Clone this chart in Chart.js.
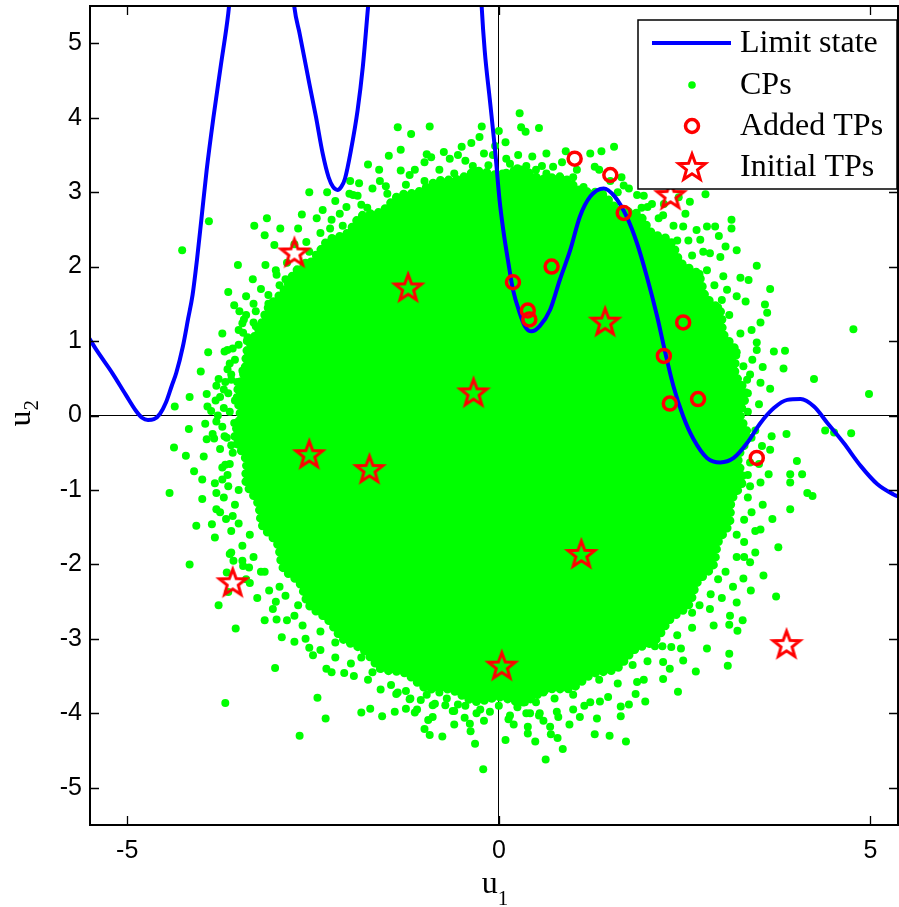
<!DOCTYPE html>
<html><head><meta charset="utf-8">
<script src="https://cdn.jsdelivr.net/npm/chart.js@4.4.0/dist/chart.umd.min.js"></script>
<style>html,body{margin:0;padding:0;background:#fff;}canvas{display:block;}</style>
</head><body>
<canvas id="c" width="899" height="907"></canvas>
<script>
// ---------- data ----------
const xTicks = [-5, 0, 5];
const yTicks = [-5, -4, -3, -2, -1, 0, 1, 2, 3, 4, 5];
const seriesLabels = ['Limit state', 'CPs', 'Added TPs', 'Initial TPs'];

const limitSeg1 = [[-5.55,1.10],[-5.40,0.86],[-5.20,0.57],[-5.02,0.28],[-4.88,0.06],[-4.80,-0.03],[-4.72,-0.06],[-4.64,-0.05],[-4.56,0.02],[-4.48,0.17],[-4.40,0.40],[-4.34,0.57],[-4.25,0.93],[-4.18,1.30],[-4.12,1.62],[-4.06,2.10],[-4.00,2.65],[-3.93,3.30],[-3.84,4.00],[-3.74,4.70],[-3.64,5.40],[-3.61,5.70]];
const limitSeg2 = [[-2.77,5.70],[-2.75,5.48],[-2.68,5.13],[-2.55,4.46],[-2.46,4.01],[-2.37,3.52],[-2.29,3.20],[-2.23,3.07],[-2.17,3.03],[-2.12,3.07],[-2.07,3.18],[-1.99,3.56],[-1.90,4.10],[-1.83,4.68],[-1.76,5.48],[-1.74,5.70]];
const limitSeg3 = [[-0.24,5.70],[-0.23,5.48],[-0.19,4.90],[-0.12,4.23],[-0.05,3.56],[0.01,2.89],[0.06,2.49],[0.13,2.04],[0.19,1.69],[0.28,1.38],[0.35,1.20],[0.44,1.13],[0.55,1.20],[0.69,1.42],[0.82,1.82],[0.96,2.22],[1.09,2.67],[1.23,2.94],[1.41,3.05],[1.56,2.94],[1.72,2.67],[1.86,2.31],[1.99,1.87],[2.13,1.33],[2.24,0.84],[2.35,0.39],[2.48,-0.01],[2.62,-0.32],[2.80,-0.57],[2.98,-0.63],[3.16,-0.57],[3.34,-0.37],[3.52,-0.10],[3.70,0.10],[3.88,0.21],[4.06,0.22],[4.24,0.12],[4.42,-0.10],[4.64,-0.37],[4.87,-0.68],[5.09,-0.92],[5.31,-1.06],[5.40,-1.10]];

// dense core of the CP cloud (outline of the solid green area)
const cpCore = [[0,3.22],[0.30,3.30],[0.56,3.18],[0.85,3.20],[1.10,3.02],[1.38,2.98],[1.60,2.77],[1.88,2.70],[2.06,2.45],[2.30,2.35],[2.45,2.05],[2.68,1.90],[2.78,1.60],[2.98,1.40],[3.02,1.10],[3.18,0.88],[3.18,0.56],[3.32,0.30],[3.25,0.00],[3.35,-0.28],[3.22,-0.57],[3.28,-0.88],[3.13,-1.14],[3.10,-1.45],[2.95,-1.70],[2.88,-2.02],[2.67,-2.24],[2.55,-2.55],[2.30,-2.74],[2.10,-3.02],[1.82,-3.15],[1.58,-3.40],[1.26,-3.47],[0.98,-3.66],[0.65,-3.68],[0.32,-3.85],[0,-3.78],[-0.32,-3.84],[-0.65,-3.68],[-0.98,-3.66],[-1.26,-3.46],[-1.58,-3.40],[-1.82,-3.15],[-2.10,-3.00],[-2.30,-2.74],[-2.55,-2.55],[-2.68,-2.25],[-2.90,-2.05],[-2.98,-1.72],[-3.18,-1.48],[-3.24,-1.18],[-3.40,-0.90],[-3.40,-0.60],[-3.55,-0.30],[-3.48,0.00],[-3.52,0.30],[-3.42,0.60],[-3.38,0.90],[-3.22,1.17],[-3.10,1.45],[-2.90,1.67],[-2.72,1.95],[-2.49,2.09],[-2.30,2.35],[-2.05,2.44],[-1.85,2.68],[-1.58,2.74],[-1.35,2.95],[-1.09,3.00],[-0.82,3.15],[-0.56,3.17],[-0.28,3.28],[0,3.22]];

// scattered CPs around the core
const cpPoints = [
[-3.90,2.61],[-4.26,2.22],[-3.29,2.55],[-3.12,2.65],[-2.94,2.51],[-3.51,2.02],[-3.14,2.02],[-3.31,1.83],[-2.99,1.89],[-3.64,1.66],[-3.10,1.62],[-2.55,3.00],[-2.31,3.00],[-2.37,2.76],[-1.76,3.37],[-1.61,3.30],[-1.52,3.08],[-1.88,3.12],[-1.32,3.29],[-1.20,3.23],[-2.01,2.98],[-2.87,1.83],[-3.56,1.48],[-3.49,1.40],[-3.27,1.40],[-3.45,1.24],[-3.72,1.10],[-3.91,0.85],[-3.65,0.88],[-3.39,1.00],[-3.27,1.20],[-3.02,2.29],[-2.70,2.51],[-2.59,2.33],[-2.46,2.16],[-2.25,2.63],[-2.27,2.51],[-2.14,2.71],[-1.96,2.96],[-1.85,2.83],[-1.77,2.79],[-3.15,2.42],
[-1.36,3.87],[-0.93,3.88],[-1.18,3.78],[0.28,4.06],[0.30,3.87],[0.36,3.81],[0.54,3.86],[0.00,3.82],[-0.23,3.88],[-0.26,3.74],[0.09,3.67],[-0.37,3.66],[-0.50,3.61],[-0.74,3.54],[-0.97,3.51],[-1.32,3.57],[-1.48,3.49],[0.64,3.52],[0.26,3.50],[0.15,3.38],[0.37,3.35],[0.58,3.35],[0.73,3.34],[0.64,3.25],[1.23,3.52],[1.29,3.34],[0.87,3.16],[1.00,3.03],[1.14,3.07],[-1.13,3.30],[-0.91,3.47],[-0.66,3.45],[-0.14,3.36],[-0.08,3.50],
[1.55,3.61],[1.38,3.55],[1.65,3.20],[1.68,3.09],[1.86,2.96],[2.06,2.84],[1.92,2.79],[2.22,2.84],[2.42,2.93],[2.78,2.97],[2.57,2.87],[2.51,2.71],[2.21,2.69],[2.48,2.54],[2.66,2.49],[2.80,2.54],[2.91,2.54],[3.13,2.63],[3.13,2.51],[2.96,2.41],[3.05,2.27],[3.20,2.22],[2.84,2.18],[2.98,2.13],[2.71,2.36],
[3.47,2.01],[3.36,1.82],[3.65,1.70],[3.58,1.49],[3.61,1.38],[3.52,1.25],[3.32,1.53],[3.20,1.60],[3.07,1.69],[3.02,1.87],[4.77,1.16],[3.70,0.86],[3.85,0.87],[3.83,0.63],[3.47,0.98],[3.47,0.88],[4.24,0.49],[4.98,0.29],[3.65,0.36],[3.34,0.48],[3.52,0.44],[3.29,0.66],[3.41,0.75],[4.39,-0.20],[4.51,-0.23],[4.74,-0.24],[3.87,-0.25],[3.67,-0.28],[3.54,-0.41],[3.65,-0.46],[4.01,-0.61],[3.92,-0.79],[4.08,-0.79],[3.63,-0.79],[3.52,-0.90],[3.92,-0.90],[4.15,-1.04],[3.38,-0.63],[3.68,-1.39],[3.92,-1.26],[4.22,-1.08],[3.52,-1.53],[3.76,-1.77],[3.35,-1.10],[3.40,-1.30],[3.30,-1.70],[3.55,-1.20],
[3.73,-2.43],[3.56,-2.15],[3.39,-2.35],[3.29,-2.19],[3.28,-2.75],[3.21,-2.89],[3.10,-2.81],[3.10,-3.20],[3.08,-3.36],[2.80,-3.13],[2.65,-3.44],[2.41,-3.71],[2.21,-3.54],[2.48,-3.29],[2.45,-3.13],[2.32,-3.11],[1.97,-3.84],[1.84,-3.74],[1.75,-3.88],[1.64,-4.04],[1.71,-4.38],[1.49,-4.30],[1.29,-4.28],[0.86,-4.48],[0.63,-4.62],[0.49,-4.38],[0.79,-4.33],[0.70,-4.28],[0.39,-4.27],[0.09,-4.36],[-0.21,-4.75],[0.95,-4.15],[1.09,-4.05],[1.32,-4.07],[1.64,-3.91],[0.78,-3.98],[0.55,-4.00],[0.42,-4.00],[0.15,-4.03],[-0.12,-3.98],[1.23,-3.85],[1.36,-3.84],[1.47,-3.78],[1.86,-3.58],[2.21,-3.31],[2.84,-2.60],[2.89,-2.82],[3.11,-2.69],[3.20,-2.51],[3.38,-1.97],[3.45,-1.84],
[-2.44,-3.79],[-2.33,-4.07],[-2.68,-4.30],[-1.85,-3.99],[-1.73,-3.94],[-1.57,-4.04],[-1.40,-3.98],[-1.25,-3.94],[-1.13,-3.99],[-1.00,-4.21],[-0.93,-4.29],[-0.76,-4.31],[-0.95,-4.09],[-0.89,-4.05],[-0.60,-3.97],[-0.46,-4.06],[-0.38,-4.24],[-0.32,-4.41],[0.13,-4.08],[0.39,-4.18],[0.69,-4.18],[0.37,-4.00],[0.54,-4.03],[-0.30,-4.00],[-0.72,-3.89],[-0.89,-3.89],[-1.20,-3.81],[-1.38,-3.74],
[-4.16,-2.00],[-3.77,-2.55],[-3.54,-2.86],[-3.01,-3.39],[-3.68,-3.86],[-3.15,-2.75],[-2.99,-2.74],[-2.92,-2.98],[-2.75,-3.04],[-2.55,-3.12],[-2.50,-3.22],[-2.32,-3.40],[-2.25,-3.45],[-2.08,-3.46],[-1.99,-3.33],[-1.76,-3.55],[-1.59,-3.68],[-1.36,-3.72],[-1.19,-3.80],[-0.97,-3.75],[-0.86,-3.87],[-0.62,-3.97],[-0.39,-4.14],[-3.09,-2.35],[-3.04,-2.60],[-2.87,-2.42],[-2.75,-2.69],[-2.64,-2.82],[-3.62,-1.86],[-3.66,-2.11],[-3.64,-2.37],[-3.36,-2.04],
[-4.01,0.59],[-4.16,0.25],[-4.36,0.12],[-3.93,0.29],[-3.81,0.20],[-3.87,0.06],[-3.80,-0.08],[-3.95,-0.11],[-4.17,-0.18],[-4.37,-0.43],[-4.21,-0.54],[-3.93,-0.32],[-3.83,-0.31],[-3.97,-0.55],[-4.10,-0.75],[-3.99,-0.86],[-3.82,-0.91],[-4.43,-1.04],[-3.99,-1.12],[-3.80,-1.04],[-3.80,-1.26],[-4.07,-1.48],[-3.86,-1.46],[-3.82,-1.64],[-3.67,-1.39],[-3.60,-1.84],[-3.57,-1.95],[-3.44,-2.02],[-3.69,0.86],[-3.65,0.62],[-3.60,0.48],[-3.43,1.29],[-3.44,1.11],[-3.77,0.49],[-3.92,0.12],[-3.69,-0.28],[-3.68,-0.66],[-3.72,-0.86],
[-0.60,3.25],[-0.30,3.28],[0.05,3.25],[0.40,3.20],[-1.00,3.15],[-1.50,2.98],[-2.10,2.55],[-2.60,2.05],[-2.90,1.60],[-3.20,1.00],[-3.45,0.60],[-3.55,0.20],[-3.60,-0.40],[-3.50,-1.00],[-3.35,-1.60],[-3.15,-2.10],[-2.70,-2.55],[-2.20,-3.05],[-1.60,-3.40],[-1.00,-3.65],[-0.40,-3.78],[0.30,-3.75],[0.90,-3.62],[1.50,-3.40],[2.10,-3.10],[2.60,-2.65],[2.95,-2.20],[3.20,-1.60],[3.38,-0.95],[3.40,-0.30],[3.35,0.30],[3.20,0.85],[2.95,1.45],[2.70,1.90],[2.40,2.35],[2.00,2.80],[1.60,3.00],[1.00,3.20],
[-1.00,3.40],[-0.80,3.30],[-0.45,3.42],[-0.20,3.52],[0.10,3.45],[0.45,3.48],[0.85,3.40],[1.05,3.30],[-1.25,3.10],[-1.60,3.15],[-0.35,3.35],[0.50,3.30],[0.25,3.32],[-0.05,3.62],[-0.55,3.50],[0.90,3.55],
[-1.90,2.95],[-2.05,2.80],[-2.20,2.88],[-2.40,2.45],[-2.55,2.20],[-2.75,2.30],[-2.85,2.05],[-3.00,1.95],[-2.95,1.75],[-3.10,1.50],[-3.20,1.70],[-3.30,1.25],[-3.38,1.05],[-3.50,0.95],[-3.55,0.75],[-2.45,2.65],[-2.00,3.15],[-1.70,3.05],[-2.65,2.70],[-3.40,1.60],
[-3.60,0.55],[-3.70,0.35],[-3.62,0.05],[-3.72,-0.15],[-3.58,-0.50],[-3.75,-0.45],[-3.65,-0.80],[-3.55,-1.20],[-3.70,-1.10],[-3.60,-1.55],[-3.45,-1.75],[-3.70,0.10],[-3.50,0.35],
[-3.58,0.90],[-3.62,0.70],[-3.68,0.45],[-3.75,0.25],[-3.64,0.30],[-3.78,0.00],[-3.66,-0.30],[-3.62,-0.65],[-3.72,-0.70],[-3.64,-0.95],[-3.58,-1.35],[-3.50,-1.45],[-3.45,-1.95],[-3.30,-1.90],[-3.40,-2.20],[-3.52,0.45],[-3.56,-0.10],[-3.80,0.40],[-3.85,-0.25],[-3.75,-1.30],[-3.40,1.35],[-3.30,1.50],[-3.50,1.15],
[-3.35,-2.25],[-3.25,-2.45],[-3.00,-2.50],[-2.85,-2.75],[-2.60,-3.00],[-2.40,-3.15],[-2.20,-3.25],[-1.95,-3.50],[-1.70,-3.45],[-1.45,-3.62],[-1.25,-3.70],[-2.95,-2.30],[-3.20,-2.10],[-2.40,-2.90],[-1.85,-3.25],
[-1.05,-3.82],[-0.80,-3.72],[-0.55,-3.88],[-0.25,-3.95],[0.00,-3.90],[0.25,-3.92],[0.50,-3.85],[0.75,-3.80],[1.00,-3.75],[1.15,-3.90],[0.60,-3.72],[-0.10,-3.80],[0.35,-3.85],[-0.70,-3.80],
[-0.20,-4.10],[0.20,-4.15],[0.60,-4.10],[-0.60,-4.15],[1.00,-3.95],[-1.10,-3.95],[0.80,-4.05],[-0.45,-3.90],
[1.35,-3.55],[1.60,-3.60],[1.80,-3.35],[2.00,-3.30],[2.20,-3.10],[2.40,-2.95],[2.60,-2.85],[2.70,-2.55],[2.85,-2.40],[3.00,-2.45],[3.05,-2.10],[3.20,-1.90],[3.15,-2.30],[2.30,-3.40],[1.95,-3.55],
[3.30,-1.40],[3.45,-1.55],[3.35,-0.80],[3.50,-0.65],[3.45,-0.20],[3.35,0.05],[3.50,0.15],[3.38,0.55],[3.55,0.65],[3.25,1.10],[3.40,1.15],[3.30,-1.90],
[3.10,1.35],[3.00,1.55],[2.90,1.75],[2.80,1.95],[2.60,2.15],[2.55,2.35],[2.35,2.55],[2.15,2.65],[1.95,2.95],[1.75,3.05],[1.50,3.15],[1.35,3.30],[3.25,1.85],[2.75,2.20]
];

const addedTPs = [[1.02,3.45],[1.50,3.23],[1.68,2.72],[0.71,2.00],[0.19,1.79],[0.39,1.41],[0.41,1.29],[2.48,1.25],[2.22,0.80],[2.30,0.16],[2.68,0.22],[3.47,-0.57]];
const initialTPs = [[-2.75,2.19],[-1.22,1.72],[-0.34,0.31],[-2.55,-0.52],[-1.74,-0.72],[-3.58,-2.24],[1.11,-1.86],[0.04,-3.36],[3.87,-3.07],[1.43,1.26],[2.31,2.96]];

// ---------- styling helpers ----------
const BLUE = '#0000ff', GREEN = '#00ff00', RED = '#ff0000';
const toXY = a => a.map(p => ({x: p[0], y: p[1]}));

function makeStar(R, r, lw) {
  const s = Math.ceil(2 * R + 2 * lw + 2);
  const c = document.createElement('canvas');
  c.width = s; c.height = s;
  const g = c.getContext('2d');
  const cx = s / 2, cy = s / 2 + 1;
  g.beginPath();
  for (let i = 0; i < 10; i++) {
    const a = -Math.PI / 2 + i * Math.PI / 5;
    const rr = i % 2 === 0 ? R : r;
    g.lineTo(cx + rr * Math.cos(a), cy + rr * Math.sin(a));
  }
  g.closePath();
  g.strokeStyle = RED; g.lineWidth = lw; g.lineJoin = 'miter';
  g.stroke();
  return c;
}
const starImg = makeStar(14, 5.8, 3);

const lineDs = (data, label) => ({
  type: 'line', label, data: toXY(data), borderColor: BLUE, borderWidth: 4,
  pointRadius: 0, fill: false, cubicInterpolationMode: 'monotone', order: 2
});

const noPad = s => { s.paddingTop = 0; s.paddingBottom = 0; s.paddingLeft = 0; s.paddingRight = 0; };

const frameLegendPlugin = {
  id: 'frameLegend',
  afterDraw(chart) {
    const ctx = chart.ctx, ca = chart.chartArea;
    const xs = chart.scales.x, ys = chart.scales.y;
    ctx.save();
    ctx.strokeStyle = '#000'; ctx.lineWidth = 2;
    ctx.strokeRect(ca.left, ca.top, ca.right - ca.left, ca.bottom - ca.top);
    ctx.lineWidth = 1.3;
    ctx.beginPath();
    xTicks.forEach(v => {
      const px = Math.round(xs.getPixelForValue(v)) + 0.5;
      ctx.moveTo(px, ca.bottom); ctx.lineTo(px, ca.bottom - 9);
      ctx.moveTo(px, ca.top); ctx.lineTo(px, ca.top + 9);
    });
    yTicks.forEach(v => {
      const py = Math.round(ys.getPixelForValue(v)) + 0.5;
      ctx.moveTo(ca.left, py); ctx.lineTo(ca.left + 9, py);
      ctx.moveTo(ca.right, py); ctx.lineTo(ca.right - 9, py);
    });
    ctx.stroke();

    // axis titles with subscripts
    ctx.fillStyle = '#000';
    ctx.textAlign = 'left'; ctx.textBaseline = 'alphabetic';
    ctx.font = '32px "Liberation Serif", "Times New Roman", serif';
    const uw = ctx.measureText('u').width;
    const cx = xs.getPixelForValue(0) - 9;
    ctx.fillText('u', cx - uw / 2, 893);
    ctx.font = '21px "Liberation Serif", "Times New Roman", serif';
    ctx.fillText('1', cx + uw / 2, 905);
    ctx.save();
    ctx.translate(30, ys.getPixelForValue(0) + 11);
    ctx.rotate(-Math.PI / 2);
    ctx.font = '32px "Liberation Serif", "Times New Roman", serif';
    ctx.fillText('u', 0, 0);
    ctx.font = '21px "Liberation Serif", "Times New Roman", serif';
    ctx.fillText('2', uw, 8);
    ctx.restore();

    // legend box
    const W = 259, H = 169;
    const L = ca.right - W - 1, T = ca.top + 14;
    ctx.fillStyle = '#fff';
    ctx.fillRect(L, T, W, H);
    ctx.strokeStyle = '#000'; ctx.lineWidth = 1.5;
    ctx.strokeRect(L, T, W, H);
    const rows = [T + 23, T + 65, T + 106, T + 147];
    const sx = L + 54;
    ctx.strokeStyle = BLUE; ctx.lineWidth = 4;
    ctx.beginPath(); ctx.moveTo(L + 14, rows[0]); ctx.lineTo(L + 93, rows[0]); ctx.stroke();
    ctx.fillStyle = GREEN;
    ctx.beginPath(); ctx.arc(sx, rows[1], 3.8, 0, Math.PI * 2); ctx.fill();
    ctx.strokeStyle = RED; ctx.lineWidth = 3.5;
    ctx.beginPath(); ctx.arc(sx, rows[2], 6.5, 0, Math.PI * 2); ctx.stroke();
    ctx.drawImage(starImg, sx - starImg.width / 2, rows[3] - starImg.height / 2);
    ctx.fillStyle = '#000';
    ctx.font = '32px "Liberation Serif", "Times New Roman", serif';
    ctx.textBaseline = 'middle';
    seriesLabels.forEach((t, i) => ctx.fillText(t, L + 102, rows[i] + 1));
    ctx.restore();
  }
};

new Chart(document.getElementById('c'), {
  type: 'scatter',
  data: {
    datasets: [
      lineDs(limitSeg1, seriesLabels[0]),
      lineDs(limitSeg2, seriesLabels[0]),
      lineDs(limitSeg3, seriesLabels[0]),
      { type: 'line', label: 'CP core', data: toXY(cpCore), borderColor: GREEN, backgroundColor: GREEN,
        borderWidth: 9, borderDash: [0, 8], borderCapStyle: 'round', borderJoinStyle: 'round',
        fill: 'shape', tension: 0.3, pointRadius: 0, order: 6 },
      { label: seriesLabels[1], data: toXY(cpPoints), pointStyle: 'circle', pointRadius: 4,
        backgroundColor: GREEN, borderColor: GREEN, pointBackgroundColor: GREEN, pointBorderWidth: 0, borderWidth: 0, order: 5 },
      { label: seriesLabels[2], data: toXY(addedTPs), pointStyle: 'circle', pointRadius: 6.5,
        backgroundColor: 'rgba(0,0,0,0)', pointBackgroundColor: 'rgba(0,0,0,0)', borderColor: RED, pointBorderColor: RED,
        pointBorderWidth: 3.5, borderWidth: 3.5, order: 1 },
      { label: seriesLabels[3], data: toXY(initialTPs), pointStyle: starImg, pointRadius: 14,
        backgroundColor: 'rgba(0,0,0,0)', borderColor: RED, order: 0 }
    ]
  },
  options: {
    responsive: false, animation: false, devicePixelRatio: 1,
    layout: { autoPadding: false, padding: { top: 6, right: 1, left: 0, bottom: 0 } },
    plugins: { legend: { display: false }, tooltip: { enabled: false } },
    scales: {
      x: {
        type: 'linear', min: -5.5, max: 5.37,
        afterBuildTicks: s => { s.ticks = xTicks.map(v => ({ value: v })); },
        afterFit: s => { s.height = 82; noPad(s); },
        border: { display: false },
        grid: { drawTicks: false, lineWidth: 1, color: c => (c.tick && c.tick.value === 0) ? '#000' : 'rgba(0,0,0,0)' },
        ticks: { color: '#000', padding: 11, maxRotation: 0, autoSkip: false,
                 font: { family: '"Liberation Sans", Arial, sans-serif', size: 25 } }
      },
      y: {
        type: 'linear', min: -5.5, max: 5.5,
        afterBuildTicks: s => { s.ticks = yTicks.map(v => ({ value: v })); },
        afterFit: s => { s.width = 90; noPad(s); },
        border: { display: false },
        grid: { drawTicks: false, lineWidth: 1, color: c => (c.tick && c.tick.value === 0) ? '#000' : 'rgba(0,0,0,0)' },
        ticks: { color: '#000', padding: 8, autoSkip: false,
                 font: { family: '"Liberation Sans", Arial, sans-serif', size: 25 } }
      }
    }
  },
  plugins: [frameLegendPlugin]
});
</script>
</body></html>
